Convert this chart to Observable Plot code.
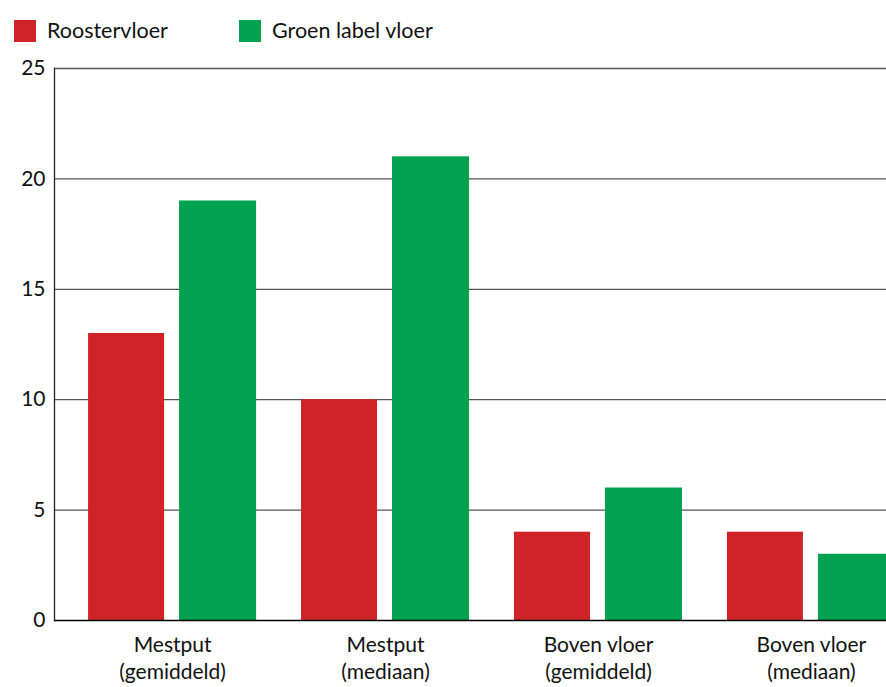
<!DOCTYPE html>
<html><head><meta charset="utf-8">
<script src="https://cdn.jsdelivr.net/npm/d3@7"></script>
<script src="https://cdn.jsdelivr.net/npm/@observablehq/plot@0.6"></script>
<style>
body{margin:0;background:#fff;font-family:Lato,"Open Sans",sans-serif;overflow:hidden;width:886px;height:687px}
#legend{position:relative;height:52px}
.sw{position:absolute;top:20px;width:22px;height:22px}
.lt{position:absolute;top:17px;font-size:21.5px;color:#111;line-height:26px;white-space:nowrap}
</style>
</head><body>
<div id="legend"></div>
<div id="chart"></div>
<script>
const categories = ["Mestput\n(gemiddeld)", "Mestput\n(mediaan)", "Boven vloer\n(gemiddeld)", "Boven vloer\n(mediaan)"];
const seriesNames = ["Roostervloer", "Groen label vloer"];
const roosterVloer = [13, 10, 4, 4];
const groenLabelVloer = [19, 21, 6, 3];
const yTicks = [0, 5, 10, 15, 20, 25];
const colors = ["#d02327", "#00a14f"];

const data = categories.map((c, i) => ({cat: c, rooster: roosterVloer[i], groen: groenLabelVloer[i]}));

const legend = document.getElementById("legend");
const lx = [[14, 47], [239, 272]];
seriesNames.forEach((n, i) => {
  const s = document.createElement("div");
  s.className = "sw"; s.style.left = lx[i][0] + "px"; s.style.background = colors[i];
  const t = document.createElement("div");
  t.className = "lt"; t.style.left = lx[i][1] + "px"; t.textContent = n;
  legend.append(s, t);
});

const chart = Plot.plot({
  width: 886, height: 635,
  marginTop: 16, marginBottom: 67, marginLeft: 54, marginRight: 0,
  style: {fontFamily: "Lato, 'Open Sans', sans-serif", fontSize: "21px", color: "#111", background: "#fff", overflow: "visible"},
  x: {domain: categories, range: [54, 929], paddingInner: 0.211, paddingOuter: 0.16, round: false, label: null},
  y: {domain: [0, 25], label: null},
  marks: [
    Plot.ruleY(yTicks.filter(d => d > 0), {stroke: "#555", strokeWidth: 1.3}),
    Plot.barY(data, {x: "cat", y: "rooster", fill: colors[0], insetRight: 92}),
    Plot.barY(data, {x: "cat", y: "groen", fill: colors[1], insetLeft: 91}),
    Plot.frame({anchor: "left", stroke: "#222", strokeWidth: 1.3}),
    Plot.ruleY([0], {stroke: "#000", strokeWidth: 1.6}),
    Plot.axisY({ticks: yTicks, tickSize: 0, tickPadding: 9, fontSize: 21}),
    Plot.axisX({tickSize: 0, tickPadding: 12, lineHeight: 1.3, fontSize: 21})
  ]
});
document.getElementById("chart").append(chart);
</script>
</body></html>
